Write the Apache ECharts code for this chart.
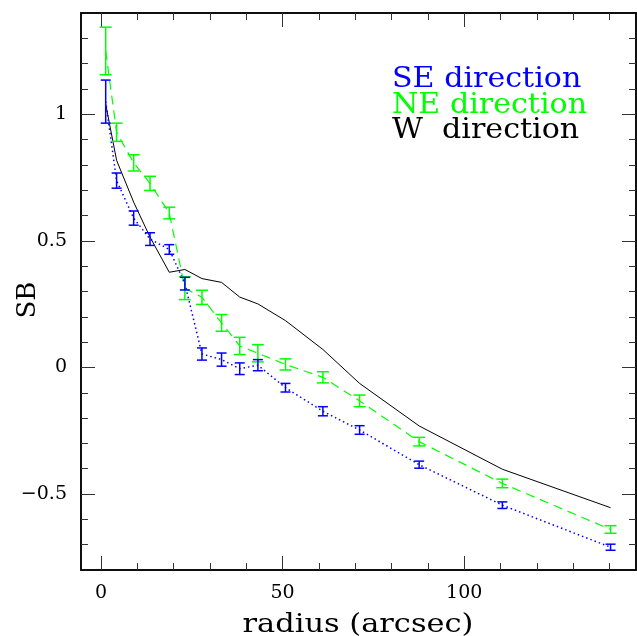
<!DOCTYPE html>
<html><head><meta charset="utf-8">
<script src="https://cdn.jsdelivr.net/npm/echarts@6/dist/echarts.min.js"></script>
<style>html,body{margin:0;padding:0;background:#fff}#c{width:637px;height:636px}</style>
</head><body><div id="c"></div>
<script>
// ---- data ----
const radius = [1.3, 4.3, 9.0, 13.5, 18.8, 23.1, 27.8, 33.2, 38.2, 43.2, 50.8, 61.1, 71.2, 87.6, 110.5, 140.3];
const seSB  = [1.05, 0.738, 0.59, 0.507, 0.466, 0.331, 0.053, 0.031, -0.005, 0.009, -0.08, -0.173, -0.247, -0.384, -0.544, -0.71];
const seErr = [0.085, 0.03, 0.028, 0.025, 0.019, 0.025, 0.024, 0.026, 0.023, 0.022, 0.017, 0.018, 0.017, 0.014, 0.013, 0.012];
const neSB  = [1.25, 0.929, 0.808, 0.727, 0.61, 0.313, 0.277, 0.176, 0.085, 0.056, 0.012, -0.039, -0.132, -0.293, -0.458, -0.64];
const neErr = [0.094, 0.036, 0.032, 0.028, 0.023, 0.045, 0.028, 0.033, 0.034, 0.034, 0.022, 0.022, 0.023, 0.017, 0.017, 0.015];
const wSB   = [1.04, 0.818, 0.653, 0.515, 0.376, 0.387, 0.351, 0.336, 0.278, 0.251, 0.185, 0.071, -0.063, -0.231, -0.402, -0.554];
const legendTexts = ['SE direction', 'NE direction', 'W  direction'];
const xMajor = [0, 50, 100];
const xMinor = [0, 10, 20, 30, 40, 50, 60, 70, 80, 90, 100, 110, 120, 130, 140];
const yMajor = [-0.5, 0, 0.5, 1];
const yMinor = [-0.7, -0.6, -0.5, -0.4, -0.3, -0.2, -0.1, 0, 0.1, 0.2, 0.3, 0.4, 0.5, 0.6, 0.7, 0.8, 0.9, 1, 1.1, 1.2, 1.3];
const X_MIN = -5.5, X_MAX = 147.3, Y_MIN = -0.8, Y_MAX = 1.4;

const FONT = 'DejaVu Serif';
const BLUE = '#0000ff', GREEN = '#00ff00', BLACK = '#000000';

function xAx(pos, ticks, len, labels) {
  return {
    type: 'value', position: pos, min: X_MIN, max: X_MAX,
    splitLine: {show: false},
    axisLine: {show: true, onZero: false, lineStyle: {color: '#000', width: 1.5}},
    axisTick: {show: true, inside: true, length: len, customValues: ticks, lineStyle: {color: '#333', width: 1}},
    axisLabel: labels ? {show: true, customValues: xMajor, margin: 14, fontFamily: FONT, fontSize: 19, color: '#000'} : {show: false}
  };
}
function yAx(pos, ticks, len, labels) {
  return {
    type: 'value', position: pos, min: Y_MIN, max: Y_MAX,
    splitLine: {show: false},
    axisLine: {show: true, onZero: false, lineStyle: {color: '#000', width: 1.5}},
    axisTick: {show: true, inside: true, length: len, customValues: ticks, lineStyle: {color: '#333', width: 1}},
    axisLabel: labels ? {show: true, customValues: yMajor, margin: 14, fontFamily: FONT, fontSize: 19, color: '#000',
      formatter: v => String(v).replace('-', '\u2212')} : {show: false}
  };
}

function errSeries(name, ys, errs, color, cap) {
  return {
    type: 'custom', name: name + ' err', silent: true, z: 3,
    xAxisIndex: 0, yAxisIndex: 0,
    data: radius.map((x, i) => [x, ys[i] - errs[i], ys[i] + errs[i]]),
    encode: {x: 0, y: [1, 2]},
    renderItem(params, api) {
      const x = api.value(0);
      const lo = api.coord([x, api.value(1)]);
      const hi = api.coord([x, api.value(2)]);
      const style = {stroke: color, lineWidth: 1.5, fill: null};
      return {type: 'group', children: [
        {type: 'line', shape: {x1: lo[0], y1: lo[1], x2: hi[0], y2: hi[1]}, style},
        {type: 'line', shape: {x1: lo[0] - cap, y1: lo[1], x2: lo[0] + cap, y2: lo[1]}, style},
        {type: 'line', shape: {x1: hi[0] - cap, y1: hi[1], x2: hi[0] + cap, y2: hi[1]}, style}
      ]};
    }
  };
}
function lineSeries(name, ys, color, type, width) {
  return {
    type: 'line', name, xAxisIndex: 0, yAxisIndex: 0, showSymbol: false, symbol: 'none',
    data: radius.map((x, i) => [x, ys[i]]),
    lineStyle: {color, width, type}, itemStyle: {color}, z: 2, silent: true, animation: false
  };
}

const chart = echarts.init(document.getElementById('c'), null, {renderer: 'canvas'});
chart.setOption({
  animation: false,
  backgroundColor: '#fff',
  grid: {left: 81, right: 1, top: 13, bottom: 66, containLabel: false},
  xAxis: [xAx('bottom', xMajor, 14, true), xAx('top', xMajor, 14, false), xAx('bottom', xMinor, 7, false), xAx('top', xMinor, 7, false)],
  yAxis: [yAx('left', yMajor, 14, true), yAx('right', yMajor, 14, false), yAx('left', yMinor, 7, false), yAx('right', yMinor, 7, false)],
  series: [
    lineSeries('W direction', wSB, BLACK, 'solid', 1),
    lineSeries('NE direction', neSB, GREEN, [9, 6], 1.2),
    lineSeries('SE direction', seSB, BLUE, [1.5, 3], 1.5),
    errSeries('NE', neSB, neErr, GREEN, 6),
    errSeries('SE', seSB, seErr, BLUE, 5)
  ],
  graphic: [
    {type: 'text', x: 392, y: 66, scaleX: 1.075, style: {text: legendTexts[0], fill: BLUE, font: '28px "DejaVu Serif"', verticalAlign: 'top'}},
    {type: 'text', x: 392, y: 92, scaleX: 1.075, style: {text: legendTexts[1], fill: GREEN, font: '28px "DejaVu Serif"', verticalAlign: 'top'}},
    {type: 'text', x: 392, y: 117, scaleX: 1.075, style: {text: legendTexts[2], fill: BLACK, font: '28px "DejaVu Serif"', verticalAlign: 'top'}},
    {type: 'text', x: 358, y: 612, scaleX: 1.17, style: {text: 'radius (arcsec)', fill: '#000', font: '26px "DejaVu Serif"', align: 'center', verticalAlign: 'top'}},
    {type: 'text', x: 28, y: 300, rotation: Math.PI / 2, style: {text: 'SB', fill: '#000', font: '26px "DejaVu Serif"', align: 'center', verticalAlign: 'middle'}}
  ]
});
</script>
</body></html>
